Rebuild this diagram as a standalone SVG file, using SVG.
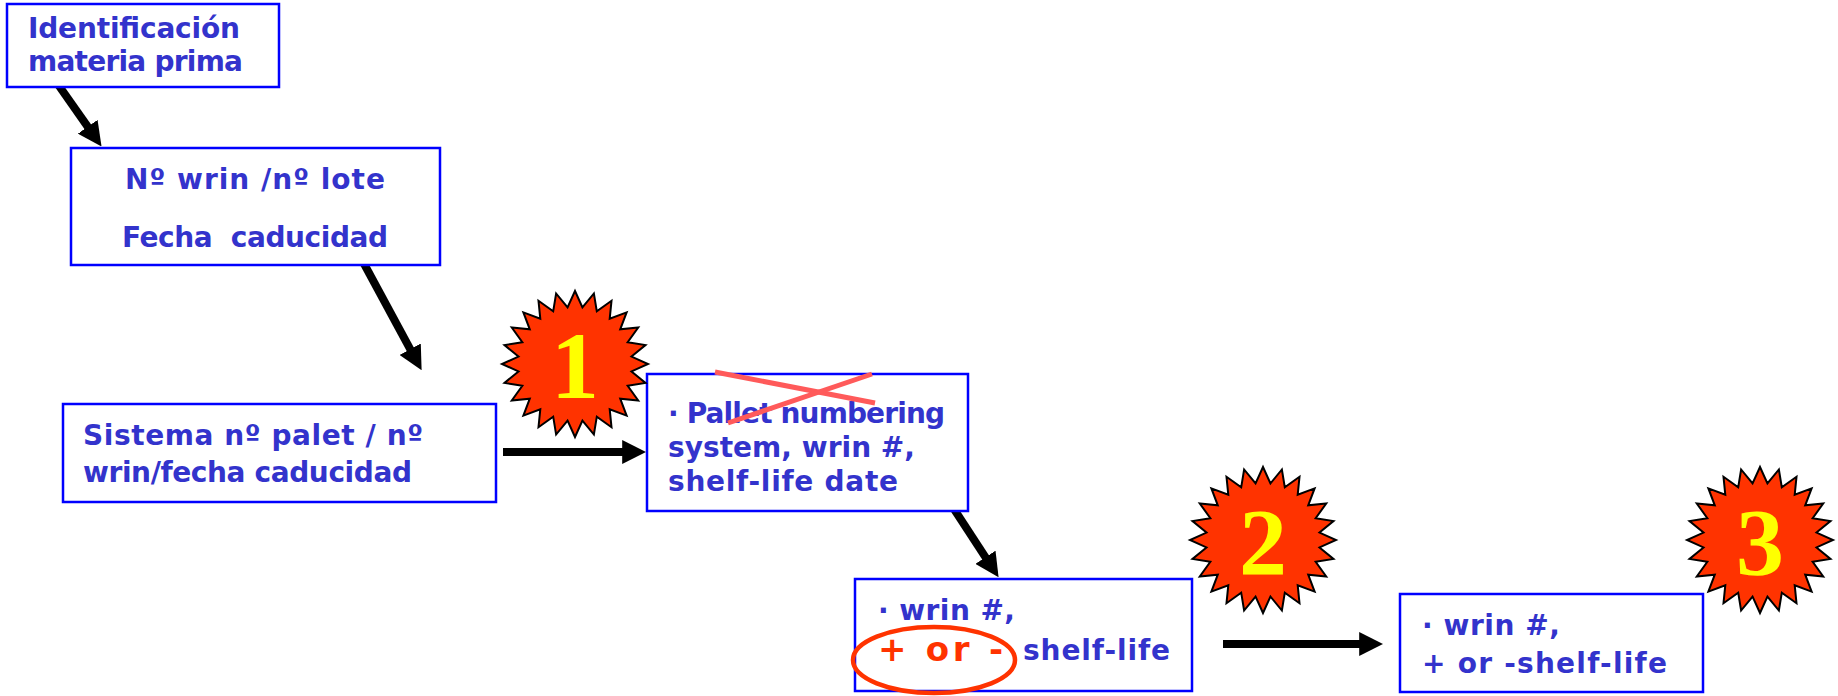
<svg xmlns="http://www.w3.org/2000/svg" width="1838" height="696" viewBox="0 0 1838 696">
<style>
.box{fill:#ffffff;stroke:#0000ff;stroke-width:2.5}
.t{font-family:"DejaVu Sans","Liberation Sans",sans-serif;font-weight:bold;font-size:28px;fill:#3333cc}
.red{fill:#ff3300;font-size:34px}
.num{font-family:"Liberation Serif","Times New Roman",serif;font-weight:bold;font-size:96px;fill:#ffff00;text-anchor:middle}
.star{fill:#ff3300;stroke:#000000;stroke-width:2;stroke-linejoin:miter}
.conn{stroke:#000000;stroke-width:8;fill:none;marker-end:url(#ah)}
.cross{stroke:#ff5a5a;stroke-width:5;fill:none}
</style>
<defs>
<marker id="ah" markerUnits="strokeWidth" markerWidth="3" markerHeight="3" viewBox="0 0 3 3" refX="0.1" refY="1.5" orient="auto">
<path d="M0,0 L3,1.5 L0,3 z" fill="#000000"/>
</marker>
<polygon id="burst" points="0,-73 7.44,-56.51 18.89,-70.51 21.81,-52.66 36.5,-63.22 34.7,-45.22 51.62,-51.62 45.22,-34.7 63.22,-36.5 52.66,-21.81 70.51,-18.89 56.51,-7.44 73,0 56.51,7.44 70.51,18.89 52.66,21.81 63.22,36.5 45.22,34.7 51.62,51.62 34.7,45.22 36.5,63.22 21.81,52.66 18.89,70.51 7.44,56.51 0,73 -7.44,56.51 -18.89,70.51 -21.81,52.66 -36.5,63.22 -34.7,45.22 -51.62,51.62 -45.22,34.7 -63.22,36.5 -52.66,21.81 -70.51,18.89 -56.51,7.44 -73,0 -56.51,-7.44 -70.51,-18.89 -52.66,-21.81 -63.22,-36.5 -45.22,-34.7 -51.62,-51.62 -34.7,-45.22 -36.5,-63.22 -21.81,-52.66 -18.89,-70.51 -7.44,-56.51"/>
</defs>
<rect width="1838" height="696" fill="#ffffff"/>

<g id="connectors">
<line class="conn" x1="57" y1="83" x2="88.2" y2="127.4"/>
<line class="conn" x1="362" y1="260" x2="410.6" y2="349.9"/>
<line class="conn" x1="503" y1="452" x2="623" y2="452"/>
<line class="conn" x1="937" y1="483" x2="985.9" y2="557.9"/>
<line class="conn" x1="1223" y1="644" x2="1360" y2="644"/>
</g>

<g id="n1">
<rect class="box" x="7" y="4" width="272" height="83"/>
<text class="t" x="28" y="38" textLength="212">Identificación</text>
<text class="t" x="28" y="71" textLength="215">materia prima</text>
</g>

<g id="n2">
<rect class="box" x="71" y="148" width="369" height="117"/>
<text class="t" x="125" y="189" textLength="260">Nº wrin /nº lote</text>
<text class="t" x="122" y="247" textLength="266" xml:space="preserve">Fecha  caducidad</text>
</g>

<g id="n3">
<rect class="box" x="63" y="404" width="433" height="98"/>
<text class="t" x="83" y="445" textLength="340">Sistema nº palet / nº</text>
<text class="t" x="83" y="482" textLength="329">wrin/fecha caducidad</text>
</g>

<g id="n4">
<rect class="box" x="647" y="374" width="321" height="137"/>
<text class="t" x="668" y="423" textLength="277">· Pallet numbering</text>
<text class="t" x="668" y="457" textLength="247">system, wrin #,</text>
<text class="t" x="668" y="491" textLength="230">shelf-life date</text>
</g>

<g id="n5">
<rect class="box" x="855" y="579" width="337" height="112"/>
<text class="t" x="878" y="620" textLength="137">· wrin #,</text>
<text class="t red" x="878" y="661" textLength="125">+ or -</text>
<text class="t" x="1023" y="660" textLength="147">shelf-life</text>
</g>

<g id="n6">
<rect class="box" x="1400" y="594" width="303" height="98"/>
<text class="t" x="1422" y="635" textLength="138">· wrin #,</text>
<text class="t" x="1422" y="673" textLength="245">+ or -shelf-life</text>
</g>

<g id="annotations">
<line class="cross" x1="715" y1="372" x2="875" y2="403"/>
<line class="cross" x1="728" y1="423" x2="872" y2="374"/>
<ellipse cx="934" cy="660" rx="81" ry="33" fill="none" stroke="#ff3300" stroke-width="4.5"/>
</g>

<g id="s1">
<use href="#burst" class="star" transform="translate(575,364)"/>
<text class="num" x="575" y="398">1</text>
</g>
<g id="s2">
<use href="#burst" class="star" transform="translate(1263,540)"/>
<text class="num" x="1263" y="575">2</text>
</g>
<g id="s3">
<use href="#burst" class="star" transform="translate(1760,540)"/>
<text class="num" x="1760" y="575">3</text>
</g>
</svg>
